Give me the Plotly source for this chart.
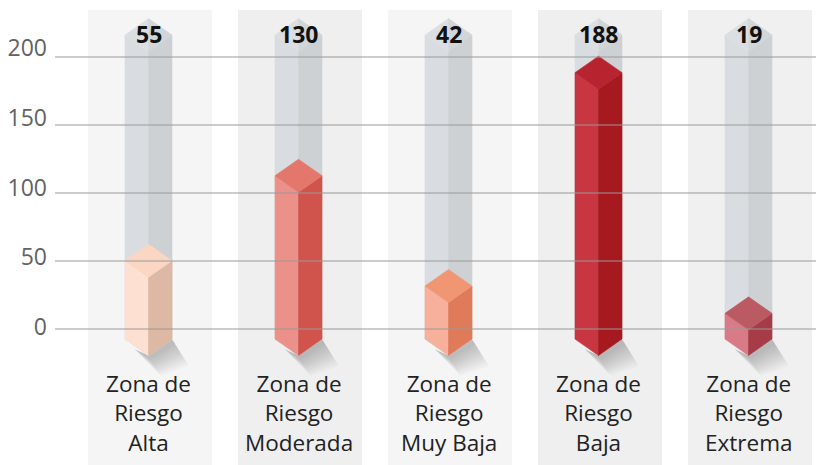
import plotly.graph_objects as go

# ---------------- data ----------------
categories = ["Zona de<br>Riesgo<br>Alta", "Zona de<br>Riesgo<br>Moderada",
              "Zona de<br>Riesgo<br>Muy Baja", "Zona de<br>Riesgo<br>Baja",
              "Zona de<br>Riesgo<br>Extrema"]
values = [55, 130, 42, 188, 19]                 # printed labels
bar_levels = [50.2, 112.7, 31.6, 188.5, 11.5]   # bar tops as read on the gridline axis
tick_values = [0, 50, 100, 150, 200]
track_level = 216.2                             # grey background column height

# ---------------- styles ----------------
face_left = ["#fde0d2", "#ec918a", "#f7b09b", "#c73641", "#d87b86"]
face_right = ["#dcb8a5", "#d0544c", "#e07b59", "#a5191f", "#a63c47"]
face_top = ["#fbd6c3", "#e4776b", "#f19672", "#b7232f", "#bc5a63"]
panel_colors = ["#f5f5f5", "#efefef", "#f5f5f5", "#efefef", "#f0f0f0"]
track_left, track_right = "#d9dce0", "#cdd1d4"
track_top_l, track_top_r = "#dcdfe2", "#d2d6d9"

PX_Y = 1.36          # pixels per y unit (gridline axis)
PX_X = 150.0         # pixels per category
half_w = 23.5 / PX_X
dh = 16.5 / PX_Y     # half height of the isometric diamond
base = -7.4          # y of the side corners at the bottom
y_range = [-100, 329 / PX_Y]
x_range = [-95 / PX_X, -95 / PX_X + 761 / PX_X]
x_shift = -1.5 / PX_X  # bars sit slightly left of the panel centre

fig = go.Figure()


def poly(xs, ys, color, width=0.6):
    fig.add_trace(go.Scatter(
        x=xs + [xs[0]], y=ys + [ys[0]], fill="toself", fillcolor=color,
        mode="lines", line=dict(width=width, color=color),
        hoverinfo="skip", showlegend=False))


for i, (lvl, val) in enumerate(zip(bar_levels, values)):
    cx = i + x_shift
    l, r = cx - half_w, cx + half_w
    # soft shadow
    for k in range(10):
        dx = (17 - 1.5 * k) / PX_X
        dy = (27 - 2.4 * k) / PX_Y
        poly([l + half_w * 0.4, cx, r, r + dx, cx + dx * 0.7],
             [base - dh * 0.6, base - dh, base, base - dy, base - dh - dy * 0.75],
             "rgba(0,0,0,0.022)", width=0)
    # grey track
    poly([l, cx, cx, l], [track_level, track_level - dh, base - dh, base], track_left)
    poly([cx, r, r, cx], [track_level - dh, track_level, base, base - dh], track_right)
    poly([l, cx, cx], [track_level, track_level + dh, track_level - dh], track_top_l)
    poly([cx, r, cx], [track_level + dh, track_level, track_level - dh], track_top_r)
    # coloured box
    poly([l, cx, cx, l], [lvl, lvl - dh, base - dh, base], face_left[i])
    poly([cx, r, r, cx], [lvl - dh, lvl, base, base - dh], face_right[i])
    poly([l, cx, r, cx], [lvl, lvl + dh, lvl, lvl - dh], face_top[i])

# invisible trace on the label axis so it renders
fig.add_trace(go.Scatter(x=[0], y=[0], yaxis="y2", mode="markers",
                         marker=dict(opacity=0), hoverinfo="skip", showlegend=False))

shapes = []
for i, c in enumerate(panel_colors):
    shapes.append(dict(type="rect", xref="x", yref="y", layer="below",
                       x0=i - 62 / PX_X, x1=i + 62 / PX_X,
                       y0=y_range[0], y1=y_range[1] - 10 / PX_Y,
                       fillcolor=c, line=dict(width=0)))
for t in tick_values:
    shapes.append(dict(type="line", xref="paper", yref="y", layer="above",
                       x0=0, x1=1, y0=t, y1=t,
                       line=dict(color="#9a9a9a", width=1.2)))

annotations = []
for i, v in enumerate(values):
    annotations.append(dict(x=i + x_shift, y=track_level + 1, xref="x", yref="y",
                            text="<b>%d</b>" % v,
                            showarrow=False, yanchor="middle", xanchor="center",
                            font=dict(family="Open Sans", size=23, color="#111111")))
for i, c in enumerate(categories):
    annotations.append(dict(x=i + x_shift, y=-61.4, xref="x", yref="y", text=c,
                            showarrow=False, yanchor="middle", xanchor="center",
                            font=dict(family="Open Sans", size=22.5, color="#222222")))

# tick labels (placed on their own slightly different scale, as in the reference)
lab_px = 1.395
fig.update_layout(
    width=816, height=465,
    margin=dict(l=55, r=0, t=0, b=0),
    paper_bgcolor="white", plot_bgcolor="white",
    xaxis=dict(range=x_range, visible=False, fixedrange=True),
    yaxis=dict(range=y_range, showgrid=False, zeroline=False, showticklabels=False,
               showline=False, ticks="", fixedrange=True),
    yaxis2=dict(range=[-(465 - 327) / lab_px, 327 / lab_px], overlaying="y", side="left",
                tickvals=tick_values, showgrid=False, zeroline=False, showline=False,
                ticks="", ticklabelstandoff=7, fixedrange=True,
                tickfont=dict(family="Open Sans", size=23, color="#626262")),
    shapes=shapes, annotations=annotations, showlegend=False,
)

fig.write_html("out.html", config={"displayModeBar": False},
               post_script="document.body.style.margin='0';document.body.style.overflow='hidden';")
